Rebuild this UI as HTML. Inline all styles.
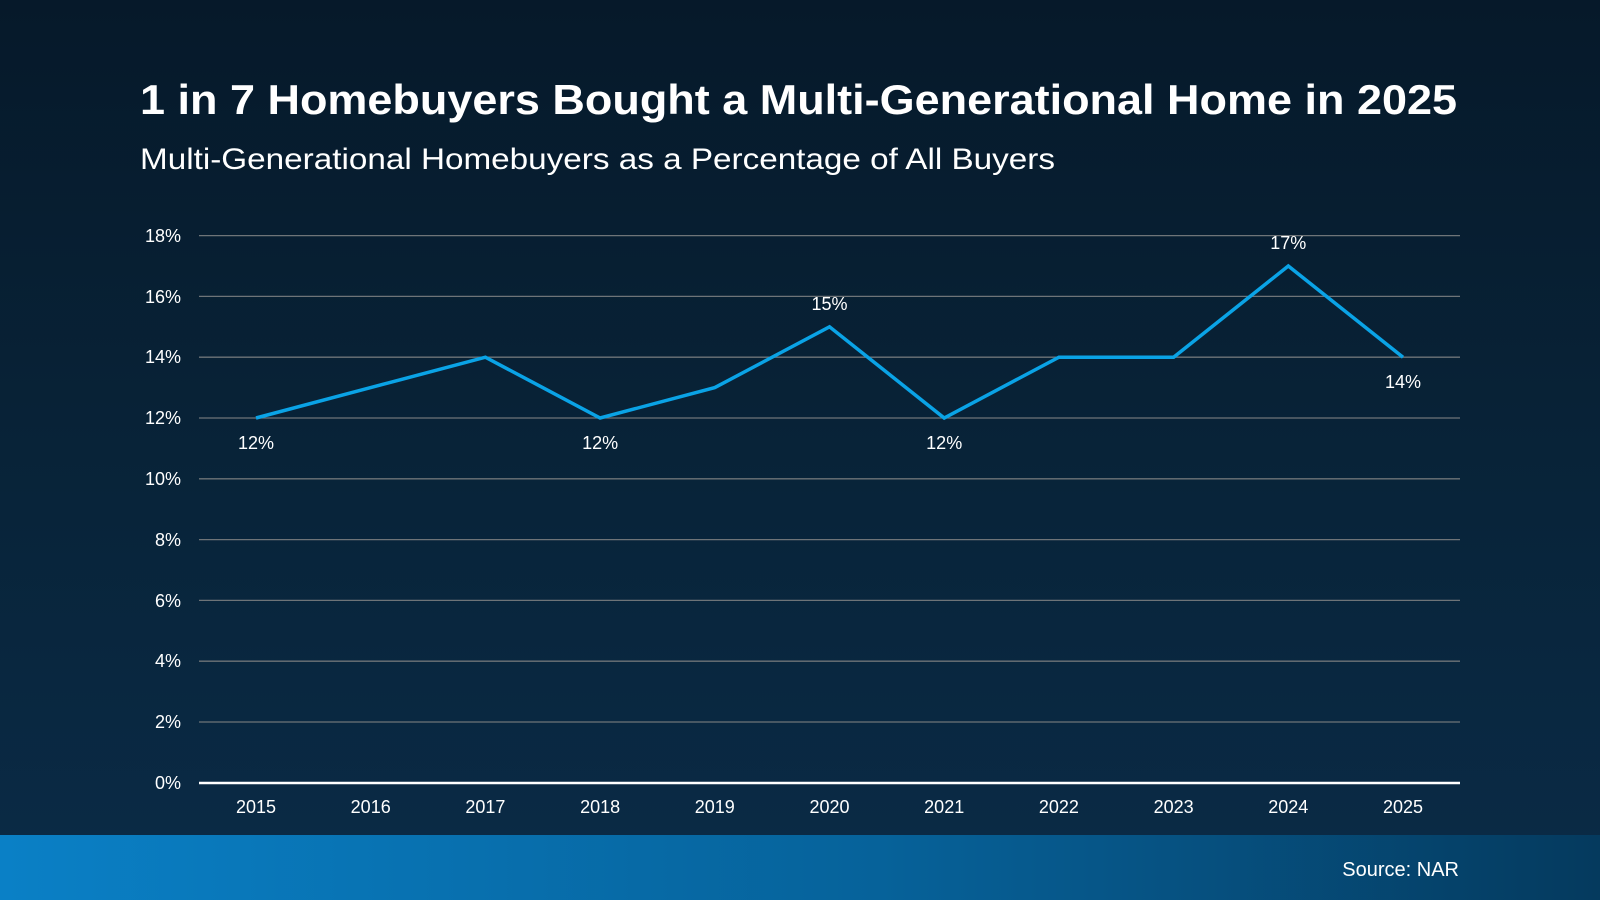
<!DOCTYPE html>
<html><head><meta charset="utf-8"><style>
html,body{margin:0;padding:0;width:1600px;height:900px;overflow:hidden}
body{background:linear-gradient(180deg,#06192a 0%,#082338 50%,#0a2b47 100%);font-family:"Liberation Sans",Arial,sans-serif}
</style></head><body>
<svg width="1600" height="900" viewBox="0 0 1600 900" style="position:absolute;left:0;top:0">
<defs>
<linearGradient id="band" x1="0" x2="1" y1="0" y2="0">
<stop offset="0" stop-color="#0a80c6"/><stop offset="0.55" stop-color="#06629a"/><stop offset="1" stop-color="#053a5e"/>
</linearGradient>
</defs>
<rect x="0" y="835" width="1600" height="65" fill="url(#band)"/>
<text x="1459" y="876" fill="#fff" font-size="20" text-anchor="end" font-family="Liberation Sans, sans-serif">Source: NAR</text>
<text x="140" y="114" fill="#fff" font-size="42" font-weight="bold" textLength="1317" lengthAdjust="spacingAndGlyphs" font-family="Liberation Sans, sans-serif">1 in 7 Homebuyers Bought a Multi-Generational Home in 2025</text>
<text x="140" y="169" fill="#fff" font-size="30" textLength="915" lengthAdjust="spacingAndGlyphs" font-family="Liberation Sans, sans-serif">Multi-Generational Homebuyers as a Percentage of All Buyers</text>
<g stroke="#6e7478" stroke-width="1.3">
<line x1="199" x2="1460" y1="235.6" y2="235.6"/>
<line x1="199" x2="1460" y1="296.4" y2="296.4"/>
<line x1="199" x2="1460" y1="357.2" y2="357.2"/>
<line x1="199" x2="1460" y1="418" y2="418"/>
<line x1="199" x2="1460" y1="478.8" y2="478.8"/>
<line x1="199" x2="1460" y1="539.6" y2="539.6"/>
<line x1="199" x2="1460" y1="600.4" y2="600.4"/>
<line x1="199" x2="1460" y1="661.2" y2="661.2"/>
<line x1="199" x2="1460" y1="722" y2="722"/>
</g>
<line x1="199" x2="1460" y1="783" y2="783" stroke="#fff" stroke-width="2.5"/>
<g fill="#fff" font-size="18" text-anchor="end" font-family="Liberation Sans, sans-serif">
<text x="181" y="242">18%</text><text x="181" y="303">16%</text><text x="181" y="363">14%</text>
<text x="181" y="424">12%</text><text x="181" y="485">10%</text><text x="181" y="546">8%</text>
<text x="181" y="607">6%</text><text x="181" y="667">4%</text><text x="181" y="728">2%</text><text x="181" y="789">0%</text>
</g>
<g fill="#fff" font-size="18" text-anchor="middle" font-family="Liberation Sans, sans-serif">
<text x="256" y="813">2015</text><text x="370.7" y="813">2016</text><text x="485.4" y="813">2017</text>
<text x="600.1" y="813">2018</text><text x="714.8" y="813">2019</text><text x="829.5" y="813">2020</text>
<text x="944.2" y="813">2021</text><text x="1058.9" y="813">2022</text><text x="1173.6" y="813">2023</text>
<text x="1288.3" y="813">2024</text><text x="1403" y="813">2025</text>
</g>
<polyline fill="none" stroke="#0aa3e6" stroke-width="3.5" stroke-linejoin="miter" points="256,418 370.7,387.6 485.4,357.2 600.1,418 714.8,387.6 829.5,326.8 944.2,418 1058.9,357.2 1173.6,357.2 1288.3,266 1403,357.2"/>
<g fill="#fff" font-size="18" text-anchor="middle" font-family="Liberation Sans, sans-serif">
<text x="256" y="449">12%</text><text x="600.1" y="449">12%</text><text x="944.2" y="449">12%</text>
<text x="829.5" y="310">15%</text><text x="1288.3" y="249">17%</text><text x="1403" y="388">14%</text>
</g>
</svg>
</body></html>
